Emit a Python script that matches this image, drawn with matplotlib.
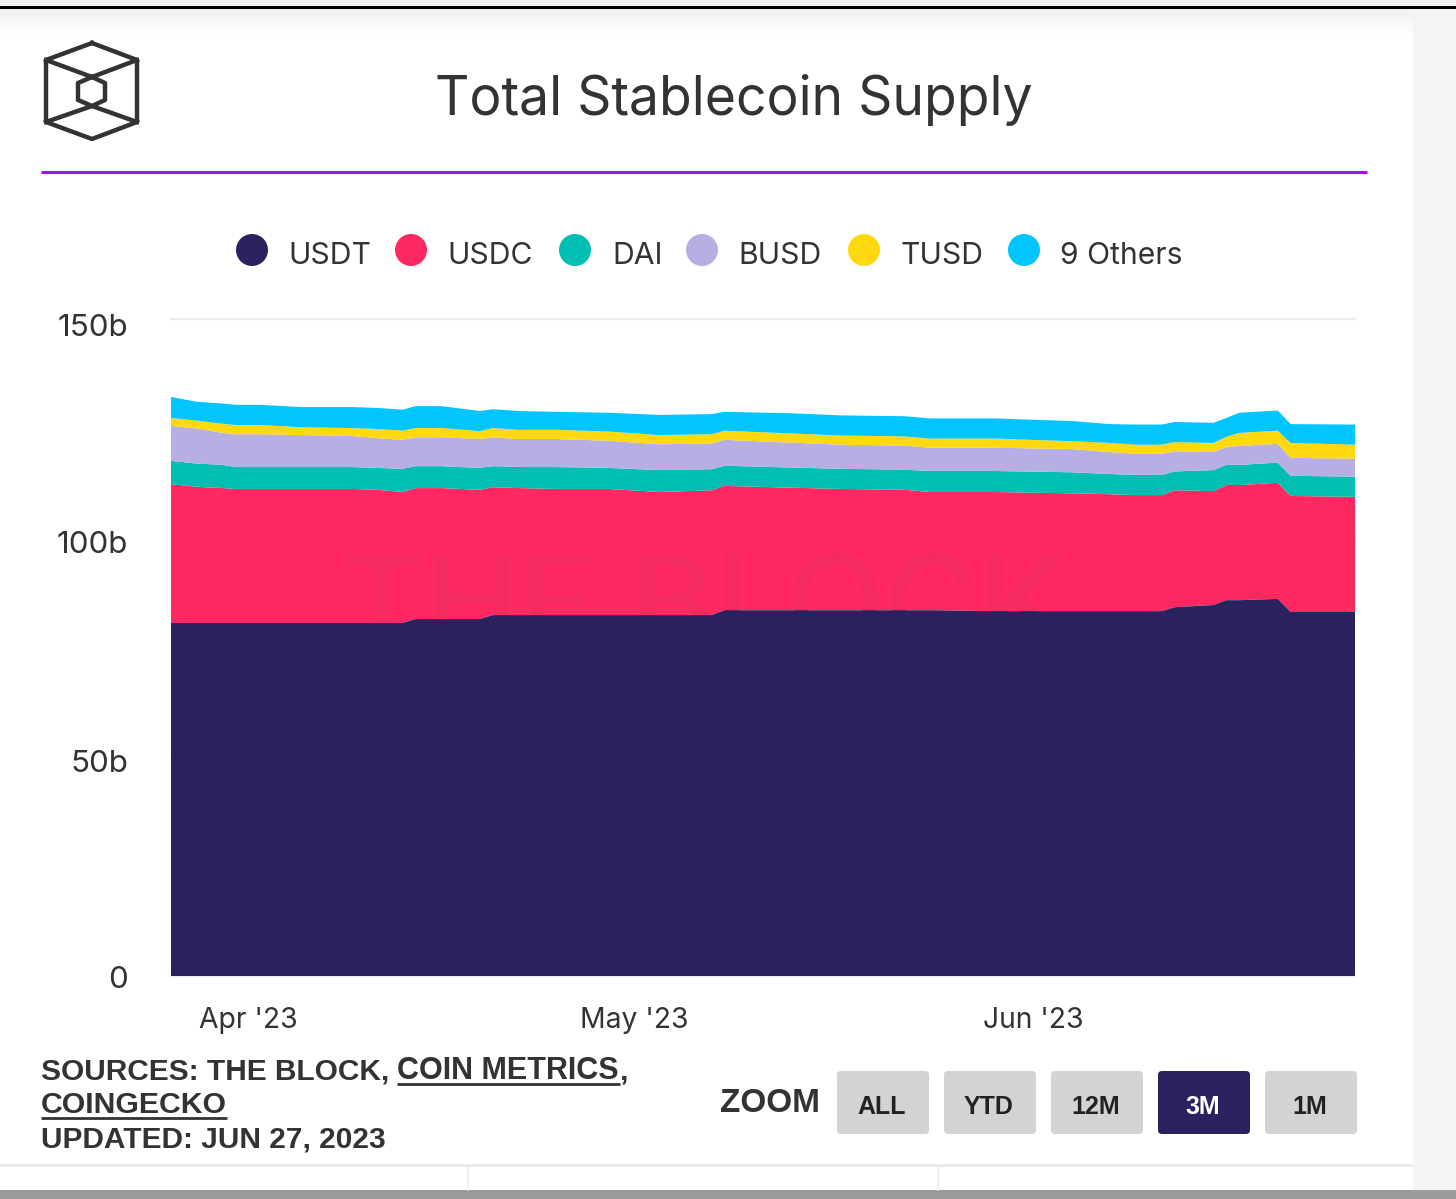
#!/usr/bin/env python
# -*- coding: utf-8 -*-
# Total Stablecoin Supply - area chart
import matplotlib
matplotlib.use('Agg')

import numpy as np
import pandas as pd
import matplotlib.pyplot as plt
import matplotlib.dates as mdates
from matplotlib.patches import FancyBboxPatch, Circle, Rectangle
from matplotlib.transforms import ScaledTranslation

# Data (billions)
fechas = ['2023-03-26', '2023-03-28', '2023-03-30', '2023-03-31', '2023-04-02', '2023-04-05', '2023-04-09',
          '2023-04-11', '2023-04-13', '2023-04-14', '2023-04-16', '2023-04-19', '2023-04-20', '2023-04-22',
          '2023-04-25', '2023-04-29', '2023-05-03', '2023-05-07', '2023-05-08', '2023-05-13', '2023-05-17',
          '2023-05-22', '2023-05-24', '2023-05-29', '2023-06-04', '2023-06-07', '2023-06-09', '2023-06-11',
          '2023-06-12', '2023-06-15', '2023-06-16', '2023-06-17', '2023-06-20', '2023-06-21', '2023-06-26']
usdt = [80.6, 80.6, 80.6, 80.6, 80.6, 80.6, 80.6, 80.6, 80.6, 81.5, 81.5, 81.5, 82.4, 82.4, 82.4, 82.4, 82.4, 82.4,
        83.5, 83.5, 83.5, 83.5, 83.5, 83.3, 83.3, 83.3, 83.3, 83.3, 84.2, 84.7, 85.8, 85.8, 86.1, 83.1, 83.1]
usdc = [31.7, 31.1, 30.8, 30.6, 30.6, 30.6, 30.6, 30.4, 29.9, 29.9, 29.9, 29.5, 29.2, 29.0, 28.8, 28.8, 28.1, 28.5,
        28.4, 28.0, 27.7, 27.5, 27.0, 27.2, 26.9, 26.7, 26.5, 26.5, 26.7, 26.0, 26.3, 26.3, 26.5, 26.5, 26.3]
dai = [5.3, 5.3, 5.3, 5.0, 5.0, 5.0, 5.0, 5.0, 5.3, 5.0, 5.0, 5.0, 4.8, 4.8, 5.0, 4.8, 5.0, 4.8,
       4.6, 4.6, 4.6, 4.6, 4.8, 4.8, 4.8, 4.6, 4.6, 4.6, 4.3, 4.8, 4.6, 4.6, 4.6, 4.6, 4.6]
busd = [8.0, 8.0, 7.3, 7.5, 7.5, 7.3, 7.1, 6.8, 6.6, 6.6, 6.6, 6.6, 6.6, 6.4, 6.4, 6.2, 5.9, 5.9,
        5.9, 5.7, 5.5, 5.5, 5.3, 5.3, 5.3, 5.0, 4.8, 4.8, 4.6, 4.1, 4.1, 4.3, 4.3, 4.1, 4.1]
tusd = [1.8, 1.8, 2.1, 2.1, 2.1, 1.8, 1.8, 2.1, 2.1, 2.1, 2.1, 1.8, 2.1, 2.1, 2.1, 2.1, 2.1, 2.1,
        2.1, 2.1, 2.1, 2.1, 2.1, 2.1, 1.8, 2.1, 2.1, 2.1, 2.1, 2.1, 2.3, 3.0, 3.0, 3.4, 3.2]
otros = [4.8, 4.3, 4.6, 4.6, 4.6, 4.6, 4.8, 4.8, 4.8, 5.0, 5.0, 4.6, 4.3, 4.3, 4.1, 4.3, 4.6, 4.6,
         4.3, 4.6, 4.6, 4.6, 4.6, 4.6, 4.6, 4.3, 4.6, 4.6, 4.6, 4.6, 4.3, 4.6, 4.6, 4.3, 4.6]

nombres = ['USDT', 'USDC', 'DAI', 'BUSD', 'TUSD', '9 Others']
colores = ['#2A225E', '#FF2861', '#00BFB2', '#B7AEE3', '#FFD90F', '#00C5FF']
y_ticks = [0, 50, 100, 150]
y_labels = ['0', '50b', '100b', '150b']
x_ticks = ['2023-04-01', '2023-05-01', '2023-06-01']
x_labels = ["Apr '23", "May '23", "Jun '23"]
botones = ['ALL', 'YTD', '12M', '3M', '1M']
boton_activo = '3M'

W, H = 1456, 1199
FUENTE = 'Inter'
FUENTE_B = 'Liberation Sans'
fig = plt.figure(figsize=(W / 100, H / 100), dpi=100)

# capa de fondo en pixeles
bg = fig.add_axes([0, 0, 1, 1], zorder=0)
bg.axis('off')
bg.add_patch(Rectangle((1413, 0), W - 1413, H, color='#F4F4F4', lw=0))
bg.imshow(np.linspace(0.94, 1, 30)[:, None], extent=(0, 1413, 38, 8), cmap='gray', vmin=0, vmax=1, aspect='auto')
bg.set_xlim(0, W)
bg.set_ylim(H, 0)
bg.add_patch(Rectangle((0, 0), W, 6, color='#F2F2F2', lw=0))
bg.add_patch(Rectangle((0, 6), W, 2.5, color='#000000', lw=0))
bg.add_patch(Rectangle((0, 1164), 1413, 3, color='#EBEBEB', lw=0))
for xv in [468, 938]:
    bg.plot([xv, xv], [1165, 1190], color='#EBEBEB', lw=1.2)
bg.add_patch(Rectangle((0, 1190), W, 9, color='#9A9A9A', lw=0))
bg.plot([41, 1367], [172, 172], color='#A50FE8', lw=2.2, solid_capstyle='butt')

# logo
ext = np.array([[92, 43], [137, 60], [137, 122], [92, 139], [46, 122], [46, 60], [92, 43]])
inn = np.array([[92, 77], [105, 83], [105, 100], [92, 106], [78, 100], [78, 83], [92, 77]])
c_logo = '#333333'
bg.plot(ext[:, 0], ext[:, 1], color=c_logo, lw=3.2, solid_joinstyle='round')
bg.plot(inn[:, 0], inn[:, 1], color=c_logo, lw=3.2, solid_joinstyle='round')
bg.plot([46, 92, 137], [60, 77, 60], color=c_logo, lw=3.2)
bg.plot([46, 92, 137], [122, 106, 122], color=c_logo, lw=3.2)

bg.text(734, 100, 'Total Stablecoin Supply', family=FUENTE, fontsize=38.5, color='#333333', ha='center', va='center')

# leyenda
x_circ = [252, 411, 575, 702, 864, 1024]
x_txt = [288.5, 447.5, 612, 738, 900.5, 1060.5]
for nom, col, xc, xt in zip(nombres, colores, x_circ, x_txt):
    bg.add_patch(Circle((xc, 250), 16, color=col, lw=0))
    bg.text(xt, 255.5, nom, family=FUENTE, fontsize=21.7, color='#333333', va='center')

# grafico principal
ax = fig.add_axes([171 / W, 1 - 976 / H, (1355 - 171) / W, (976 - 319) / H], zorder=1)
ax.patch.set_alpha(0)
xx = pd.to_datetime(fechas)
capas = ax.stackplot(xx, usdt, usdc, dai, busd, tusd, otros, colors=colores, lw=0)
capas[0].set_zorder(3)
for capa in capas[1:]:
    capa.set_zorder(1)

ax.set_xlim(xx[0], xx[-1])
ax.set_ylim(0, 150)
ax.set_yticks(y_ticks)
ax.set_yticklabels(y_labels, family=FUENTE, fontsize=22.6, color='#333333')
ax.set_xticks(mdates.date2num(pd.to_datetime(x_ticks)))
ax.set_xticklabels(x_labels, family=FUENTE, fontsize=20.4, color='#333333')
ax.tick_params(axis='both', length=0)
ax.tick_params(axis='y', pad=31)
ax.tick_params(axis='x', pad=22)
# las etiquetas del eje y estan un poco corridas hacia abajo
for lab, dy in zip(ax.get_yticklabels(), [1, 4, 4, 6]):
    lab.set_transform(lab.get_transform() + ScaledTranslation(0, -dy * 0.72 / 72, fig.dpi_scale_trans))
for sp in ax.spines.values():
    sp.set_visible(False)
ax.grid(axis='y', color='#EDEDED', lw=1.6, zorder=0)
for gl in ax.get_ygridlines():
    gl.set_clip_on(False)
ax.set_axisbelow(True)

# marca de agua, solo se ve sobre la capa roja
ax.text(0.4497, 0.642, 'THE BLOCK', transform=ax.transAxes, family=FUENTE, fontsize=92,
        fontweight='medium', color='#F52A5F', ha='center', va='top', zorder=2)

# pie
c_pie = '#333333'
pie = dict(family=FUENTE_B, fontweight='bold', color=c_pie, va='center')
bg.text(41, 1071, 'SOURCES: THE BLOCK, ', fontsize=21.5, **pie)
bg.text(397, 1071, 'COIN METRICS', fontsize=22, **pie)
bg.text(620, 1071, ',', fontsize=21.5, **pie)
bg.text(41, 1105, 'COINGECKO', fontsize=21.8, **pie)
bg.text(41, 1139.5, 'UPDATED: JUN 27, 2023', fontsize=21.5, **pie)
bg.plot([397, 620], [1084, 1084], color=c_pie, lw=2, solid_capstyle='butt')
bg.plot([41, 227], [1118, 1118], color=c_pie, lw=2, solid_capstyle='butt')

bg.text(720, 1103, 'ZOOM', fontsize=24, **pie)
for i, et in enumerate(botones):
    x0 = 837 + i * 107
    activo = et == boton_activo
    bg.add_patch(FancyBboxPatch((x0 + 3, 1074), 86, 57, boxstyle='round,pad=3,rounding_size=4',
                                fc=colores[0] if activo else '#D3D3D3', ec='none'))
    bg.text(x0 + 44.5, 1107, et, family=FUENTE_B, fontweight='bold', fontsize=18,
            color='white' if activo else '#222222', ha='center', va='center')

plt.savefig('out.png', dpi=100)
